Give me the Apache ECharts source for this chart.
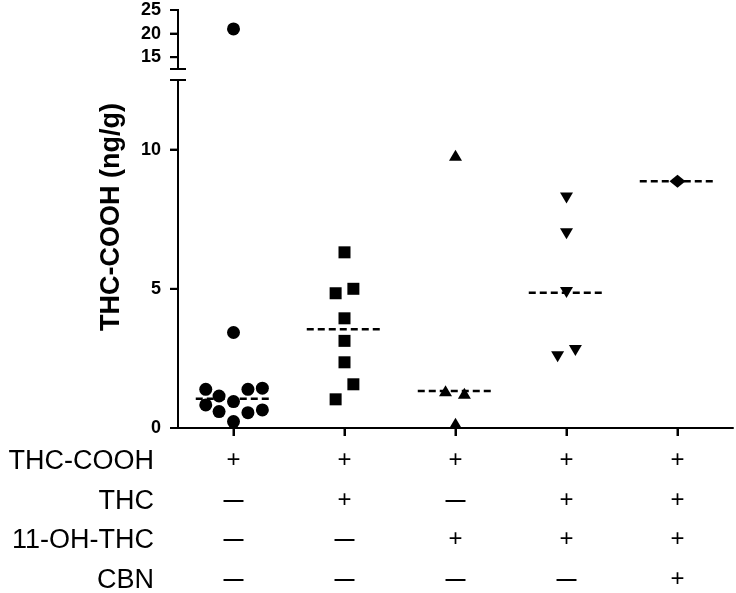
<!DOCTYPE html>
<html><head><meta charset="utf-8">
<script src="https://cdn.jsdelivr.net/npm/echarts@6/dist/echarts.min.js"></script>
<style>html,body{margin:0;padding:0;background:#fff}#c{width:736px;height:593px}</style>
</head><body><div id="c"></div>
<script>
// ---- data ----
const groups = ['G1', 'G2', 'G3', 'G4', 'G5'];
const rowNames = ['THC-COOH', 'THC', '11-OH-THC', 'CBN'];
const rowTHCCOOH = ['+', '+', '+', '+', '+'];
const rowTHC     = ['-', '+', '-', '+', '+'];
const rowOHTHC   = ['-', '-', '+', '+', '+'];
const rowCBN     = ['-', '-', '-', '-', '+'];

const g1Values = [21.0, 3.43, 1.39, 1.39, 1.43, 1.15, 0.95, 0.83, 0.59, 0.55, 0.65, 0.23];
const g1Jitter = [0, 0, -0.25, 0.13, 0.26, -0.13, 0, -0.25, -0.13, 0.13, 0.26, 0];
const g2Values = [6.31, 4.84, 5.0, 3.94, 3.13, 2.36, 1.57, 1.03];
const g2Jitter = [0, -0.08, 0.08, 0, 0, 0, 0.08, -0.08];
const g3Values = [9.8, 1.34, 1.25, 0.17];
const g3Jitter = [0, -0.09, 0.08, 0];
const g4Values = [8.26, 6.98, 4.87, 2.78, 2.56];
const g4Jitter = [0, 0, 0, 0.08, -0.08];
const g5Values = [8.86];
const g5Jitter = [0];
const medians = [1.05, 3.55, 1.33, 4.86, 8.86];

const lowerTicks = [0, 5, 10];
const upperTicks = [15, 20, 25];
const lowerRange = [0, 12.5];
const upperRange = [12.5, 25];

// ---- build ----
const rows = [rowTHCCOOH, rowTHC, rowOHTHC, rowCBN];
const allValues = [g1Values, g2Values, g3Values, g4Values, g5Values];
const allJitter = [g1Jitter, g2Jitter, g3Jitter, g4Jitter, g5Jitter];
const symbols = ['circle', 'rect', 'triangle', 'triangle', 'diamond'];
const symbolRot = [0, 0, 0, 180, 0];
const symbolSizes = [13, 12, [13, 11], [13, 11], [16, 13]];
const FONT = '"Liberation Sans", Arial, Helvetica, sans-serif';
const X_MIN = -0.5, X_MAX = groups.length - 0.5;

const series = [];
allValues.forEach((vals, gi) => {
  const lower = [], upper = [];
  vals.forEach((v, k) => {
    const pt = [gi + allJitter[gi][k], v];
    if (v > lowerRange[1]) upper.push(pt); else lower.push(pt);
  });
  series.push({
    type: 'line', xAxisIndex: 1, yAxisIndex: 0, z: 1, symbol: 'none',
    data: [[gi - 0.34, medians[gi]], [gi + 0.34, medians[gi]]],
    lineStyle: { color: '#000', width: 2.5, type: [7, 4] }, silent: true
  });
  const common = { type: 'scatter', z: 3, symbol: symbols[gi], symbolRotate: symbolRot[gi],
    symbolSize: symbolSizes[gi], itemStyle: { color: '#000', opacity: 1 } };
  series.push(Object.assign({ xAxisIndex: 1, yAxisIndex: 0, data: lower }, common));
  if (upper.length) series.push(Object.assign({ xAxisIndex: 2, yAxisIndex: 1, data: upper }, common));
});

function ls() { return { color: '#000', width: 2 }; }
const chart = echarts.init(document.getElementById('c'), null, { renderer: 'canvas' });

function textGraphics() {
  return [
    { type: 'text', x: 112, y: 217, rotation: Math.PI / 2,
      style: { text: 'THC-COOH (ng/g)', fontSize: 27, fontWeight: 'bold', fontFamily: FONT,
        fill: '#000', align: 'center', verticalAlign: 'middle' } }
  ].concat(rowNames.map((name, i) => ({
    type: 'text', x: 154, y: 462 + i * 39.5,
    style: { text: name, fontSize: 27, fontFamily: FONT, fill: '#000', align: 'right', verticalAlign: 'middle' }
  })));
}

chart.setOption({
  animation: false,
  grid: [
    { left: 178, right: 3, top: 80, bottom: 165 },
    { left: 178, right: 3, top: 10, height: 59 }
  ],
  xAxis: [
    { type: 'category', gridIndex: 0, data: groups, boundaryGap: true,
      axisLine: { show: true, onZero: false, lineStyle: ls() },
      axisTick: { show: true, alignWithLabel: true, length: 8, lineStyle: ls() },
      axisLabel: {
        interval: 0, margin: 13, color: '#000',
        formatter: (v, idx) => rows.map(r => r[idx] === '+' ? '{p|+}' : '{m|\u2014}').join('\n'),
        rich: {
          p: { fontSize: 24, lineHeight: 39.5, fontFamily: FONT, color: '#000' },
          m: { fontSize: 20, fontWeight: 'bold', lineHeight: 39.5, fontFamily: FONT, color: '#000' }
        }
      },
      splitLine: { show: false } },
    { type: 'value', gridIndex: 0, min: X_MIN, max: X_MAX, show: false },
    { type: 'value', gridIndex: 1, min: X_MIN, max: X_MAX, show: false }
  ],
  yAxis: [
    { type: 'value', gridIndex: 0, min: lowerRange[0], max: lowerRange[1], interval: 5,
      axisLine: { show: true, onZero: false, lineStyle: ls() },
      axisTick: { show: true, length: 8, lineStyle: ls() },
      axisLabel: { fontSize: 18, fontWeight: 'bold', color: '#000', fontFamily: FONT, margin: 17, showMaxLabel: false },
      splitLine: { show: false } },
    { type: 'value', gridIndex: 1, min: upperRange[0], max: upperRange[1],
      axisLine: { show: true, onZero: false, lineStyle: ls() },
      axisTick: { show: true, length: 8, lineStyle: ls(), customValues: upperTicks },
      axisLabel: { customValues: upperTicks, fontSize: 18, fontWeight: 'bold', color: '#000', fontFamily: FONT, margin: 17 },
      splitLine: { show: false } }
  ],
  graphic: textGraphics(),
  series: series
});

// tick marks and break caps, placed through the axis scales (top layer)
function seg(x1, y1, x2, y2) {
  return { type: 'line', z: 100, zlevel: 1, shape: { x1, y1, x2, y2 }, style: { stroke: '#000', lineWidth: 2 } };
}
const extra = [];
lowerTicks.forEach(v => {
  const p = chart.convertToPixel({ xAxisIndex: 1, yAxisIndex: 0 }, [X_MIN, v]);
  extra.push(seg(p[0] - 8, p[1], p[0] + 1, p[1]));
});
upperTicks.forEach(v => {
  const p = chart.convertToPixel({ xAxisIndex: 2, yAxisIndex: 1 }, [X_MIN, v]);
  extra.push(seg(p[0] - 8, p[1], p[0] + 1, p[1]));
});
groups.forEach((g, i) => {
  const p = chart.convertToPixel({ xAxisIndex: 1, yAxisIndex: 0 }, [i, lowerRange[0]]);
  extra.push(seg(p[0], p[1] - 1, p[0], p[1] + 8));
});
const capLow = chart.convertToPixel({ xAxisIndex: 1, yAxisIndex: 0 }, [X_MIN, lowerRange[1]]);
const capUp = chart.convertToPixel({ xAxisIndex: 2, yAxisIndex: 1 }, [X_MIN, upperRange[0]]);
[capLow, capUp].forEach(p => extra.push(seg(p[0] - 8, p[1], p[0] + 8, p[1])));
chart.setOption({ graphic: textGraphics().concat(extra) }, { replaceMerge: ['graphic'] });
</script>
</body></html>
